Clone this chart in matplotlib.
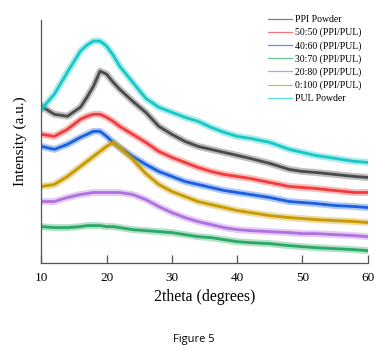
import matplotlib
matplotlib.use("Agg")
import matplotlib.pyplot as plt
from matplotlib.lines import Line2D

two_theta = [10, 12, 14, 16, 17, 18, 19, 20, 21, 22, 24, 26, 28, 30, 32, 34, 36,
             38, 40, 42, 45, 48, 50, 52, 55, 58, 60]

ppi_powder = [156, 148, 146, 155, 165, 176, 191, 188, 180, 173, 161, 150, 136, 128,
              121, 116, 113, 110, 107, 104, 99, 93, 91, 90, 88, 86, 85]
r50_50 = [128, 126, 133, 143, 146, 148, 148, 145, 141, 136, 128, 120, 111, 105, 100,
          95, 91, 88, 86, 84, 80, 76, 75, 74, 72, 70, 70]
r40_60 = [116, 113, 118, 125, 128, 131, 131, 126, 120, 115, 106, 98, 91, 86, 81, 78,
          75, 72, 70, 68, 65, 61, 60, 59, 57, 56, 55]
r30_70 = [36, 35, 35, 36, 37, 37, 37, 36, 36, 35, 33, 32, 31, 30, 28, 26, 25, 23, 21,
          20, 19, 17, 16, 15, 14, 13, 12]
r20_80 = [61, 61, 65, 68, 69, 70, 70, 70, 70, 70, 68, 63, 56, 50, 45, 41, 38, 35, 33,
          32, 31, 30, 29, 29, 28, 27, 26]
r0_100 = [76, 78, 86, 96, 101, 106, 111, 116, 120, 115, 103, 89, 78, 71, 66, 61, 58,
          55, 52, 50, 47, 45, 44, 43, 42, 41, 40]
pul_powder = [153, 168, 190, 211, 217, 221, 221, 216, 207, 196, 180, 164, 155, 150,
              145, 141, 135, 130, 126, 124, 120, 113, 110, 107, 104, 101, 100]

labels = ["PPI Powder", "50:50 (PPI/PUL)", "40:60 (PPI/PUL)", "30:70 (PPI/PUL)",
          "20:80 (PPI/PUL)", "0:100 (PPI/PUL)", "PUL Powder"]
series = [ppi_powder, r50_50, r40_60, r30_70, r20_80, r0_100, pul_powder]
colors = ["#4a4a4a", "#f03c3c", "#1a5fe0", "#2aa866", "#b070e0", "#c89a00", "#18c8c8"]

plt.rcParams['font.family'] = ['Liberation Serif', 'DejaVu Serif']

fig = plt.figure(figsize=(3.87, 3.53), dpi=100)
ax = fig.add_axes([0.1067, 0.2558, 0.8433, 0.6875])

handles = []
for y, c, lab in zip(series, colors, labels):
    ax.plot(two_theta, y, color=c, lw=5.0, alpha=0.35, solid_joinstyle='round')
    ax.plot(two_theta, y, color=c, lw=2.0, solid_joinstyle='round')
    handles.append(Line2D([0], [0], color=c, lw=0.9, alpha=0.7, label=lab))

ax.set_xlim(10, 60)
ax.set_ylim(0, 242)
ax.set_xticks([10, 20, 30, 40, 50, 60])
ax.set_yticks([])
ax.tick_params(axis='x', direction='in', length=6, width=0.9, colors='#555555',
               labelcolor='black', labelsize=9.5, pad=7)
for s in ['top', 'right']:
    ax.spines[s].set_visible(False)
for s in ['left', 'bottom']:
    ax.spines[s].set_color('#555555')
    ax.spines[s].set_linewidth(0.9)

ax.set_xlabel("2theta (degrees)", fontsize=11.3, labelpad=3)
ax.set_ylabel("Intensity (a.u.)", fontsize=11, labelpad=10)

leg = ax.legend(handles=handles, loc='upper right', bbox_to_anchor=(1.0, 1.045),
                frameon=False, fontsize=7.0, handlelength=2.5, handletextpad=0.35,
                labelspacing=0.38, borderaxespad=0.2)

fig.text(0.5, 0.037, "Figure 5", ha='center', va='center', fontsize=8,
         family=['Open Sans', 'DejaVu Sans'])

fig.savefig("out.png", dpi=100, facecolor='white')
